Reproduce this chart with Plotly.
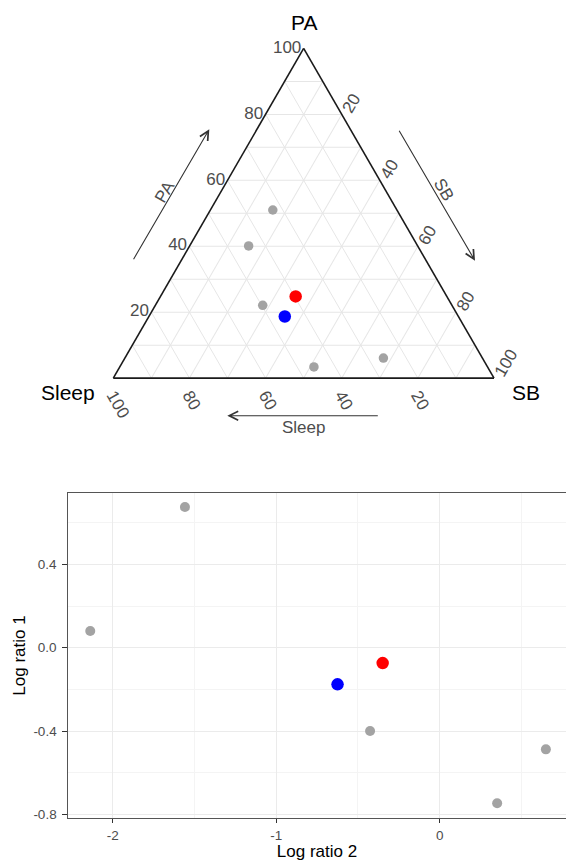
import plotly.graph_objects as go

# Compositions (percent) of the reference participants and the two highlighted profiles
grey_pa = [51.0, 40.1, 22.1, 3.4, 6.1]
grey_sb = [16.4, 15.5, 28.2, 51.0, 67.9]
grey_sleep = [32.6, 44.4, 49.7, 45.6, 26.0]

red_pa, red_sb, red_sleep = [24.8], [35.5], [39.7]
blue_pa, blue_sb, blue_sleep = [18.7], [35.7], [45.6]

# Isometric log-ratio coordinates of the same compositions
grey_lr2 = [0.649, 0.351, -0.426, -2.137, -1.558]
grey_lr1 = [-0.488, -0.747, -0.400, 0.080, 0.675]
red_lr2, red_lr1 = [-0.349], [-0.074]
blue_lr2, blue_lr1 = [-0.625], [-0.176]

tern_ticks = [10, 20, 30, 40, 50, 60, 70, 80, 90, 100]
tern_text = ["", "20", "", "40", "", "60", "", "80", "", "100"]

x_ticks = [-2, -1, 0]
x_text = ["-2", "-1", "0"]
y_ticks = [-0.8, -0.4, 0.0, 0.4]
y_text = ["-0.8", "-0.4", "0.0", "0.4"]

W, H = 566, 861
GREY = "#A3A3A3"
TXT = "#4D4D4D"
FONT = "Liberation Sans, Arial, sans-serif"


def px(x):
    return x / W


def py(y):
    return 1 - y / H


fig = go.Figure()

# ---- ternary diagram ----
fig.add_trace(go.Scatterternary(a=grey_pa, b=grey_sleep, c=grey_sb, mode="markers",
                                marker=dict(color=GREY, size=9.5), showlegend=False))
fig.add_trace(go.Scatterternary(a=red_pa, b=red_sleep, c=red_sb, mode="markers",
                                marker=dict(color="#FF0000", size=12.5), showlegend=False))
fig.add_trace(go.Scatterternary(a=blue_pa, b=blue_sleep, c=blue_sb, mode="markers",
                                marker=dict(color="#0000FF", size=12.5), showlegend=False))

# ---- log-ratio scatter ----
fig.add_trace(go.Scatter(x=grey_lr2, y=grey_lr1, mode="markers",
                         marker=dict(color=GREY, size=10), showlegend=False))
fig.add_trace(go.Scatter(x=red_lr2, y=red_lr1, mode="markers",
                         marker=dict(color="#FF0000", size=12.5), showlegend=False))
fig.add_trace(go.Scatter(x=blue_lr2, y=blue_lr1, mode="markers",
                         marker=dict(color="#0000FF", size=12.5), showlegend=False))

tern_axis = dict(title=dict(text=""), min=0, tickmode="array", tickvals=tern_ticks,
                 ticktext=tern_text, ticks="", showline=True, linecolor="#1a1a1a",
                 linewidth=1.6, showgrid=True, gridcolor="#E6E6E6", gridwidth=1,
                 tickfont=dict(family=FONT, size=17, color=TXT))

fig.update_layout(
    width=W, height=H,
    margin=dict(l=0, r=0, t=0, b=0),
    paper_bgcolor="white",
    plot_bgcolor="white",
    font=dict(family=FONT),
    ternary=dict(
        sum=100,
        bgcolor="white",
        domain=dict(x=[px(113.3), px(494.0)], y=[py(378.3), py(48.3)]),
        aaxis=dict(tern_axis),
        baxis=dict(tern_axis, tickangle=60),
        caxis=dict(tern_axis, tickangle=-60),
    ),
    xaxis=dict(
        domain=[px(68), 1.0], range=[-2.273, 0.772],
        tickmode="array", tickvals=x_ticks, ticktext=x_text,
        minor=dict(dtick=0.5, tick0=0, showgrid=True, gridcolor="#F4F4F4", gridwidth=0.8),
        showgrid=True, gridcolor="#EBEBEB", gridwidth=1.1,
        zeroline=False, showline=True, linecolor="#555555", linewidth=1.3, mirror=True,
        ticks="outside", ticklen=4.5, tickcolor="#333333", tickwidth=1,
        tickfont=dict(size=13.5, color=TXT, family=FONT),
        title=dict(text="Log ratio 2", font=dict(size=17, color="black", family=FONT), standoff=4),
        automargin=False, anchor="y",
    ),
    yaxis=dict(
        domain=[py(817.7), py(493.3)], range=[-0.816, 0.741],
        tickmode="array", tickvals=y_ticks, ticktext=y_text,
        minor=dict(dtick=0.2, tick0=0, showgrid=True, gridcolor="#F4F4F4", gridwidth=0.8),
        showgrid=True, gridcolor="#EBEBEB", gridwidth=1.1,
        zeroline=False, showline=True, linecolor="#555555", linewidth=1.3, mirror=False,
        ticks="outside", ticklen=4.5, tickcolor="#333333", tickwidth=1,
        ticklabelstandoff=3,
        tickfont=dict(size=13.5, color=TXT, family=FONT),
        title=dict(text="Log ratio 1", font=dict(size=17, color="black", family=FONT), standoff=3),
        automargin=False, anchor="x",
    ),
)

# corner labels of the ternary diagram
corner_font = dict(family=FONT, size=21, color="black")
for txt, x, y in [("PA", 304, 22.5), ("Sleep", 68, 392), ("SB", 526, 392)]:
    fig.add_annotation(text=txt, x=px(x), y=py(y), xref="paper", yref="paper",
                       showarrow=False, font=corner_font, xanchor="center", yanchor="middle")

# direction arrows along the ternary edges
arrow_style = dict(xref="paper", yref="paper", text="", showarrow=True, arrowhead=5,
                   arrowsize=1.6, arrowwidth=1.1, arrowcolor="#333333", standoff=0,
                   startstandoff=0)
fig.add_annotation(x=px(209.3), y=py(129.3), ax=132.7 - 209.3, ay=260.7 - 129.3, **arrow_style)
fig.add_annotation(x=px(475.0), y=py(260.7), ax=398.3 - 475.0, ay=129.3 - 260.7, **arrow_style)
fig.add_annotation(x=px(227.3), y=py(415.7), ax=379.3 - 227.3, ay=0, **arrow_style)

arrow_font = dict(family=FONT, size=17, color=TXT)
for txt, x, y, ang in [("PA", 165, 191.7, -60), ("SB", 443.3, 190, 60), ("Sleep", 303.5, 427.5, 0)]:
    fig.add_annotation(text=txt, x=px(x), y=py(y), xref="paper", yref="paper",
                       showarrow=False, font=arrow_font, textangle=ang,
                       xanchor="center", yanchor="middle")

fig.write_html("out.html")
